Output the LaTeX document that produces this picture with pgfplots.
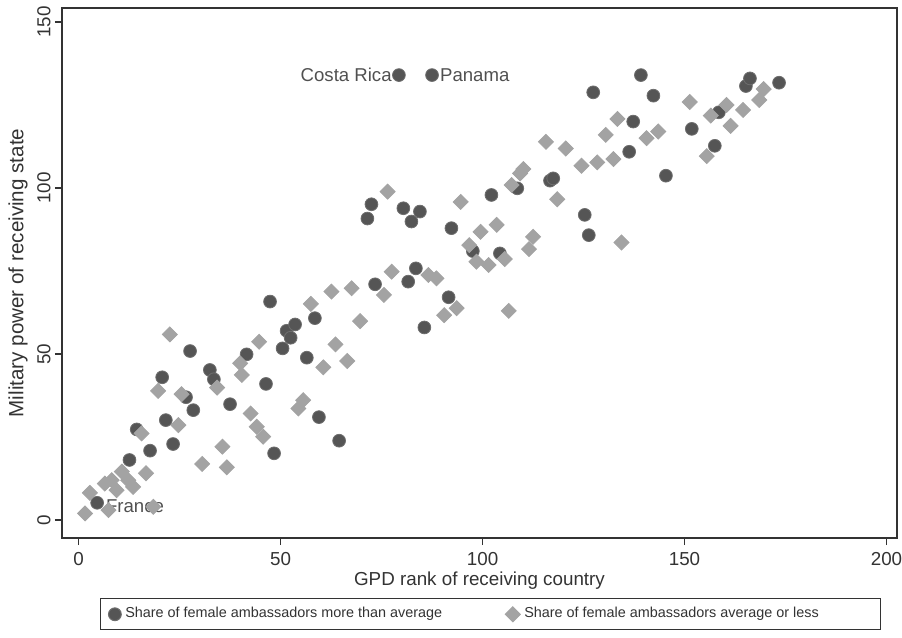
\documentclass[border=0pt]{standalone}
\usepackage{fontspec}
\setmainfont{Liberation Sans}
\usepackage{pgfplots}
\pgfplotsset{compat=1.18}

\definecolor{darkpt}{HTML}{555555}
\definecolor{lightpt}{HTML}{A3A3A3}
\definecolor{txt}{HTML}{333333}
\definecolor{anno}{HTML}{505050}

% more than average
\pgfplotstableread{
x y
4.6 5.2
12.6 18.1
14.4 27.3
17.7 20.9
20.7 43.0
21.6 30.1
23.4 22.9
26.6 37.0
27.6 50.9
28.4 33.1
32.5 45.2
33.5 42.4
37.5 34.9
41.6 49.9
46.4 41.0
47.4 65.8
48.4 20.1
50.5 51.7
51.5 57.0
52.5 54.9
53.6 58.9
56.5 48.9
58.5 60.8
59.5 31.0
64.5 23.9
71.5 90.8
72.5 95.1
73.4 71.0
79.3 134.0
80.4 93.9
81.6 71.8
82.4 89.9
83.5 75.8
84.5 92.9
85.6 58.0
87.5 134.0
91.6 67.1
92.3 87.9
97.6 81.0
102.2 97.9
104.3 80.3
108.6 99.9
116.7 102.2
117.5 102.9
125.3 91.9
126.3 85.8
127.4 128.8
136.3 110.9
137.3 120.0
139.2 134.0
142.3 127.8
145.4 103.7
151.8 117.8
157.5 112.7
158.5 122.8
165.2 130.7
166.2 133.0
173.4 131.7
}\more

% average or less
\pgfplotstableread{
x y
1.6 2.0
2.8 8.2
6.5 11.0
7.4 3.0
8.2 12.0
9.4 9.0
10.7 14.6
12.3 12.0
13.5 10.0
15.6 26.1
16.7 14.1
18.5 4.0
19.7 38.9
22.6 55.9
24.7 28.6
25.5 37.9
30.6 16.9
34.3 39.9
35.6 22.1
36.7 15.9
40.0 47.2
40.4 43.7
42.6 32.1
44.1 28.1
44.7 53.7
45.7 25.1
54.4 33.6
55.6 36.1
57.5 65.1
60.6 46.0
62.6 68.8
63.6 52.9
66.5 47.9
67.6 69.8
69.7 59.9
75.6 67.8
76.5 98.9
77.5 74.8
86.6 73.8
88.6 72.8
90.5 61.7
93.6 63.8
94.6 95.8
96.7 82.8
98.5 77.8
99.5 86.8
101.5 76.8
103.5 88.9
105.5 78.6
106.5 63.0
107.2 100.9
109.3 104.4
110.1 105.7
111.5 81.6
112.5 85.3
115.7 113.9
118.5 96.6
120.6 111.9
124.5 106.7
128.4 107.7
130.5 116.0
132.4 108.7
133.4 120.8
134.4 83.6
140.6 115.0
143.5 117.0
151.3 125.9
155.5 109.6
156.5 121.8
160.4 125.0
161.4 118.7
164.5 123.5
168.5 126.5
169.6 129.8
}\less

\begin{document}
\begin{tikzpicture}
\begin{axis}[
  scale only axis,
  width=417.5pt, height=265pt,
  xmin=-4.1, xmax=202.6,
  ymin=-5.4, ymax=154.2,
  xtick={0,50,100,150,200},
  ytick={0,50,100,150},
  xtick pos=bottom, ytick pos=left,
  tick align=outside,
  major tick length=3.5pt,
  axis line style={txt, line width=0.6pt},
  every tick/.style={txt, line width=0.6pt},
  tick label style={font=\fontsize{9.4}{11}\selectfont, text=txt},
  /pgf/number format/assume math mode=true,
  yticklabel style={rotate=90, anchor=south, inner sep=2pt},
  xticklabel style={inner sep=3.5pt},
  xlabel={GPD rank of receiving country},
  ylabel={Military power of receiving state},
  xlabel style={font=\fontsize{9.4}{11}\selectfont, text=txt,
    at={(axis description cs:0.5,-0.0811)}, anchor=center},
  ylabel style={font=\fontsize{10.3}{12}\selectfont, text=txt,
    at={(axis description cs:-0.0527,0.5)}, anchor=center},
  clip=false,
  legend columns=2,
  legend style={at={(0.0455,-0.1133)}, anchor=north west,
    draw=txt, line width=0.5pt, inner xsep=4pt, inner ysep=2.5pt,
    font=\fontsize{7.2}{8.5}\selectfont, text=txt},
  legend cell align=left,
]
\addplot[only marks, mark=*, mark size=3.2pt,
  mark options={fill=darkpt, draw=darkpt!85}] table {\more};
\addplot[only marks, mark=square*, mark size=2.65pt,
  mark options={rotate=45, fill=lightpt, draw=lightpt}] table {\less};
\legend{\makebox[188pt][l]{Share of female ambassadors more than average},
  \makebox[172pt][l]{Share of female ambassadors average or less}}
\node[anchor=west, font=\fontsize{9.3}{11}\selectfont, text=anno, inner sep=0pt]
  at (axis cs:6.7,4.3) {France};
\node[anchor=east, font=\fontsize{9.3}{11}\selectfont, text=anno, inner sep=0pt]
  at (axis cs:77.6,134) {Costa Rica};
\node[anchor=west, font=\fontsize{9.3}{11}\selectfont, text=anno, inner sep=0pt]
  at (axis cs:89.4,134) {Panama};
\end{axis}
\pgfresetboundingbox
\useasboundingbox ([shift={(-31pt,-49.5pt)}]current axis.south west)
  rectangle ([shift={(2.5pt,4pt)}]current axis.north east);
\end{tikzpicture}
\end{document}
